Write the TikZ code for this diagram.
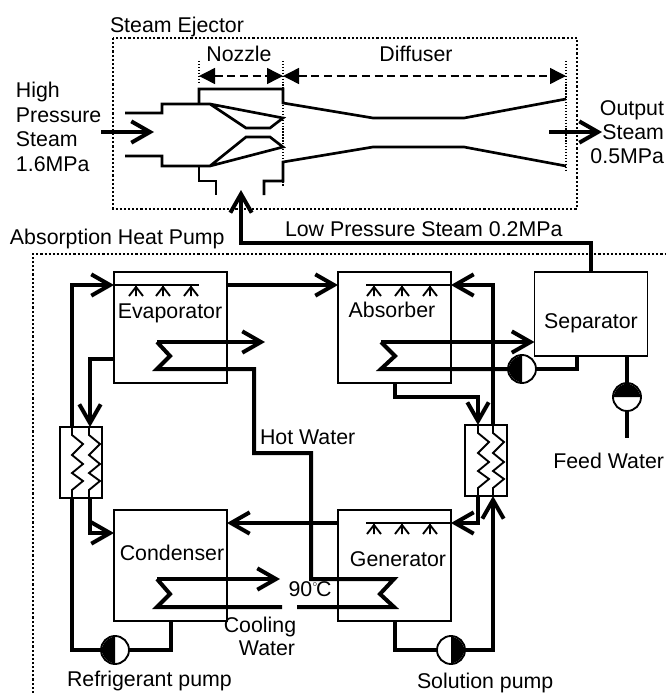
\documentclass[tikz,border=0pt]{standalone}
\usepackage{fontspec}
\setmainfont{Liberation Sans}
\usetikzlibrary{arrows.meta}
\newcommand{\hxzig}[2]{\draw[thinline] (#1,#2) -- (#1,#2+8) -- (#1+11,#2+17) -- (#1,#2+28) -- (#1+11,#2+37) -- (#1,#2+46) -- (#1+11,#2+54) -- (#1,#2+63) -- (#1,#2+71);}
\newcommand{\spray}[1]{\draw[thinline] (#1,0) -- (#1,11) (#1-7,11) -- (#1,2) -- (#1+7,11);}
\tikzset{
  x=0.75pt,y=-0.75pt,
  every node/.style={font=\fontsize{16}{18}\selectfont,inner sep=0pt,outer sep=0pt},
  lbl/.style={text height=13pt,text depth=1.6pt},
  box/.style={draw,line width=1.4pt,minimum width=84.75pt,minimum height=83.25pt},
  hxbox/.style={draw,line width=1.4pt,minimum width=31.5pt,minimum height=53.25pt},
  pumpnode/.style={draw,circle,line width=1.4pt,minimum size=21pt},
  pipe/.style={line width=3pt,line join=miter},
  thinline/.style={line width=1.4pt},
  body/.style={line width=2pt,line join=miter},
  flow/.style={pipe,-{Straight Barb[length=14pt,width=16pt,line width=3pt]}},
  frame/.style={line width=1.8pt,dash pattern=on 1.6pt off 1.5pt},
  guide/.style={line width=1pt,dash pattern=on 1pt off 1.2pt},
  span/.style={line width=1.1pt,dash pattern=on 6pt off 3.5pt},
}
\begin{document}
\begin{tikzpicture}
\useasboundingbox (0,0) rectangle (665,693);
% frames
\draw[frame] (113,38) rectangle (577,209);
\draw[frame] (33,693) -- (33,254) -- (665,254);
% ejector guides
\draw[guide] (199,61) -- (199,84);
\draw[guide] (283,61) -- (283,186);
\draw[guide] (566,61) -- (566,170);
\coordinate (nozzleL) at (199,76);
\coordinate (nozzleR) at (283,76);
\coordinate (diffR) at (566,76);
\draw[span,{Triangle[length=12pt,width=12pt]}-{Triangle[length=12pt,width=12pt]}] (nozzleL) -- (nozzleR);
\draw[span,{Triangle[length=12pt,width=12pt]}-{Triangle[length=12pt,width=12pt]}] (nozzleR) -- (diffR);
% ejector body
\draw[body] (125,113) -- (162,113) -- (162,104) -- (210,104) -- (246,128) -- (270,128) -- (283,118) -- (210,104);
\draw[body] (125,156) -- (162,156) -- (162,166) -- (210,166) -- (246,137) -- (270,137) -- (283,147) -- (210,166);
\draw[body] (199,104) -- (199,89) -- (283,89) -- (283,103) -- (373,118) -- (464,118) -- (566,99);
\draw[body] (199,166) -- (199,181) -- (216,181) -- (216,195);
\draw[body] (264,195) -- (264,181) -- (283,181) -- (283,162) -- (373,147) -- (464,147) -- (566,166);
% ejector flows
\coordinate (hpIn) at (101,132);
\coordinate (hpTip) at (154,132);
\coordinate (outA) at (549,132);
\coordinate (outB) at (602,132);
\draw[flow] (hpIn) -- (hpTip);
\draw[flow] (outA) -- (outB);
% vessels
\node[box] (evap) at (170.5,327.5) {};
\node[box] (absb) at (394.5,327.5) {};
\node[box,minimum height=63pt] (sepa) at (591,314) {};
\node[box] (cond) at (170.5,565.5) {};
\node[box] (genr) at (394.5,565.5) {};
\node[hxbox] (hxl) at (81,462.5) {};
\node[hxbox] (hxr) at (486,460.5) {};
\node[pumpnode] (pabs) at (522,369) {};
\node[pumpnode] (pfeed) at (627,397) {};
\node[pumpnode] (pref) at (115,650) {};
\node[pumpnode] (psol) at (451,650) {};
% pump fills
\fill (pabs.west) .. controls (pabs.north west) .. (pabs.north) -- (pabs.south) .. controls (pabs.south west) .. (pabs.west);
\fill (pref.west) .. controls (pref.north west) .. (pref.north) -- (pref.south) .. controls (pref.south west) .. (pref.west);
\fill (psol.east) .. controls (psol.north east) .. (psol.north) -- (psol.south) .. controls (psol.south east) .. (psol.east);
\fill (pfeed.north) .. controls (pfeed.north west) .. (pfeed.west) -- (pfeed.east) .. controls (pfeed.north east) .. (pfeed.north);
% sprays
\draw[thinline] (evap.west |- 0,285) -- (199,285);
\draw[thinline] (366,285) -- (absb.east |- 0,285);
\draw[thinline] (366,523) -- (genr.east |- 0,523);
\begin{scope}[shift={(0,285)}]
\spray{136}\spray{163}\spray{191}\spray{374}\spray{402}\spray{430}
\end{scope}
\begin{scope}[shift={(0,523)}]
\spray{374}\spray{402}\spray{430}
\end{scope}
% heat exchanger coils
\hxzig{72}{427}
\hxzig{89}{427}
\hxzig{478}{425}
\hxzig{493}{425}
% refrigerant circuit
\draw[pipe] (pref.west) -- (72,650) -- (72,0 |- hxl.south);
\draw[flow] (72,0 |- hxl.north) -- (72,285) -- (evap.west |- 0,285);
\draw[flow] (evap.east |- 0,285) -- (absb.west |- 0,285);
\draw[flow] (evap.west |- 0,359) -- (90,359) -- (90,0 |- hxl.north);
\draw[flow] (90,0 |- hxl.south) -- (90,533) -- (cond.west |- 0,533);
\draw[pipe] (pref.east) -- (171,650) -- (171,0 |- cond.south);
\draw[flow] (genr.west |- 0,523) -- (cond.east |- 0,523);
% solution circuit
\draw[flow] (493,0 |- hxr.north) -- (493,285) -- (absb.east |- 0,285);
\draw[flow] (395,0 |- absb.south) -- (395,397) -- (478,397) -- (478,0 |- hxr.north);
\draw[flow] (478,0 |- hxr.south) -- (478,523) -- (genr.east |- 0,523);
\draw[pipe] (395,0 |- genr.south) -- (395,650) -- (psol.west);
\draw[flow] (psol.east) -- (493,650) -- (493,0 |- hxr.south);
% hot water and coils
\draw[flow] (157,342) -- (265,342);
\draw[pipe] (157,342) -- (170,356) -- (157,369) -- (254,369) -- (254,453) -- (311,453) -- (311,579) -- (394,579) -- (380,594) -- (394,607) -- (297,607);
\draw[pipe] (282,607) -- (157,607) -- (170,594) -- (157,579);
\draw[flow] (157,579) -- (280,579);
% absorber coil
\draw[flow] (381,342) -- (sepa.west |- 0,342);
\draw[pipe] (381,342) -- (395,356) -- (381,369) -- (pabs.west);
\draw[pipe] (pabs.east) -- (577,369) -- (577,0 |- sepa.south);
% feed water
\coordinate (feedEnd) at (627,438);
\draw[pipe] (627,0 |- sepa.south) -- (pfeed.north);
\draw[pipe] (pfeed.south) -- (feedEnd);
% low pressure steam
\draw[flow] (591,0 |- sepa.north) -- (591,243) -- (241,243) -- (241,190);
% labels
\node[lbl,anchor=west] (tEjector) at (110,25) {Steam Ejector};
\node[lbl] (tNozzle) at (239,54) {Nozzle};
\node[lbl] (tDiffuser) at (416,54) {Diffuser};
\node[lbl,anchor=west] (tHigh) at (16,90) {High};
\node[lbl,anchor=west] (tPress) at (16,115) {Pressure};
\node[lbl,anchor=west] (tSteam) at (16,139) {Steam};
\node[lbl,anchor=west] (tOnesix) at (16,164) {1.6MPa};
\node[lbl,anchor=east] (tOutput) at (664,108) {Output};
\node[lbl,anchor=east] (tOSteam) at (664,132) {Steam};
\node[lbl,anchor=east] (tOhalf) at (664,156) {0.5MPa};
\node[lbl,anchor=west] (tAHP) at (10,237) {Absorption Heat Pump};
\node[lbl,anchor=west] (tLow) at (285,229) {Low Pressure Steam 0.2MPa};
\node[lbl] (tEvap) at (170,311) {Evaporator};
\node[lbl] (tAbs) at (392,310) {Absorber};
\node[lbl] (tSep) at (591,321) {Separator};
\node[lbl] (tCond) at (172,553) {Condenser};
\node[lbl] (tGen) at (398,559) {Generator};
\node[lbl,anchor=west] (tHot) at (260,437) {Hot Water};
\node[lbl,anchor=east] (tFeed) at (664,461) {Feed Water};
\node[lbl] (tNinety) at (310,589) {90\raisebox{4.5pt}{\fontsize{8}{8}\selectfont$^\circ$}\kern-1.5pt C};
\node[lbl] (tCool) at (260,625) {Cooling};
\node[lbl] (tWater) at (267,648) {Water};
\node[lbl,anchor=west] (tRef) at (67,679) {Refrigerant pump};
\node[lbl,anchor=west] (tSol) at (417,681) {Solution pump};
\end{tikzpicture}
\end{document}
